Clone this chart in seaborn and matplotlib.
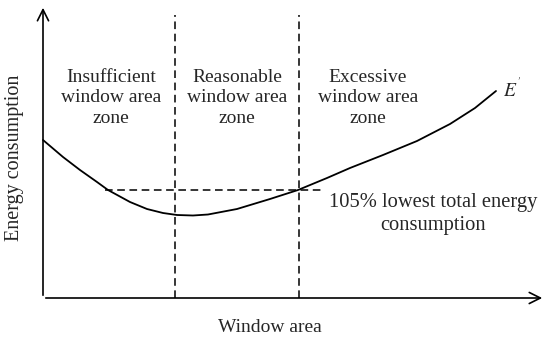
import matplotlib
matplotlib.use("Agg")
import matplotlib.pyplot as plt
import seaborn as sns
import pandas as pd

# curve E' (window area vs energy consumption, arbitrary units)
window_area = [0, 20, 37, 54, 65, 87, 104, 120, 134, 150, 165, 194, 227, 255, 284, 307, 340, 374, 407, 432, 453]
energy = [158, 141, 128, 116, 108, 96, 89, 85, 83, 82.5, 83.5, 89, 99, 108, 120, 130, 143, 157, 174, 190, 207]

zone_bounds = [132, 256]
level_105 = 108
level_span = [62, 282]
zone_labels = ["Insufficient\nwindow area\nzone", "Reasonable\nwindow area\nzone", "Excessive\nwindow area\nzone"]
zone_centers = [68, 194, 325]

df = pd.DataFrame({"window_area": window_area, "energy": energy})

sns.set_style("white")
plt.rcParams["font.family"] = ["Liberation Serif", "DejaVu Serif"]

fig = plt.figure(figsize=(5.5, 3.43), dpi=100)
ax = fig.add_axes([0, 0, 1, 1])
ax.set_xlim(-43, 507)
ax.set_ylim(-45, 298)
ax.axis("off")

sns.lineplot(data=df, x="window_area", y="energy", color="black", lw=1.3, ax=ax)

# axes with arrows
ax.annotate("", xy=(0, 293), xytext=(0, 0),
            arrowprops=dict(arrowstyle="->", color="black", lw=1.2, mutation_scale=20))
ax.annotate("", xy=(502, 0), xytext=(0, 0),
            arrowprops=dict(arrowstyle="->", color="black", lw=1.2, mutation_scale=20))

for b in zone_bounds:
    ax.plot([b, b], [0, 283], color="black", lw=1.1, ls=(0, (5, 3)))
ax.plot(level_span, [level_105, level_105], color="black", lw=1.1, ls=(0, (5, 3)))

for c, lab in zip(zone_centers, zone_labels):
    ax.text(c, 200, lab, ha="center", va="center", fontsize=14, linespacing=1.3)

ax.text(390, 84, "105% lowest total energy\nconsumption", ha="center", va="center",
        fontsize=14.8, linespacing=1.3)
ax.text(460, 210, "$E^{'}$", ha="left", va="center", fontsize=14, math_fontfamily="stix")
ax.text(227, -29, "Window area", ha="center", va="center", fontsize=14)
ax.text(-28, 140, "Energy consumption", ha="center", va="center", fontsize=14.5, rotation=90)

fig.savefig("out.png", dpi=100)
